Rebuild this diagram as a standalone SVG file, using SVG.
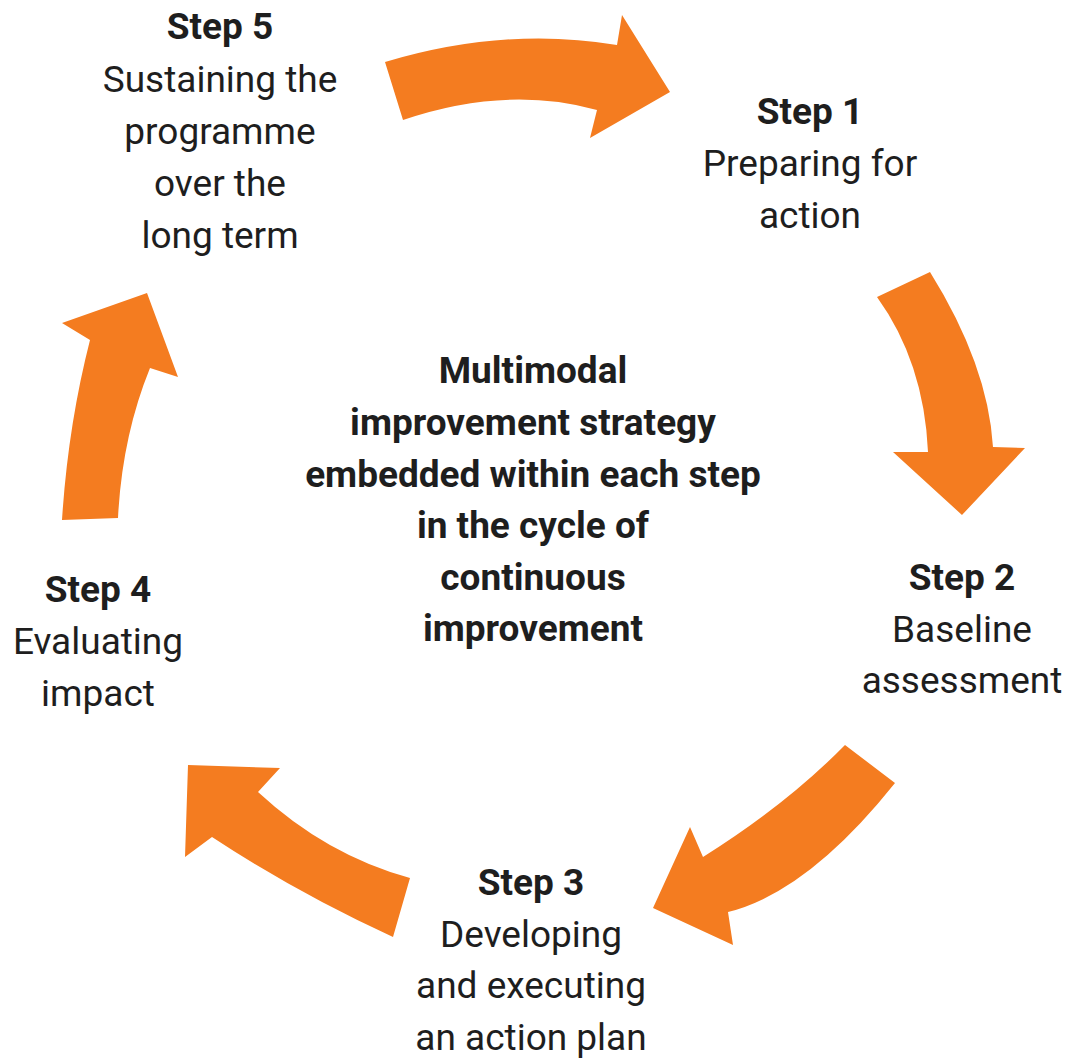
<svg xmlns="http://www.w3.org/2000/svg" width="1068" height="1058" viewBox="0 0 1068 1058">
<style>
.arrow{fill:#F47C20}
text{font-family:Roboto,"Liberation Sans",sans-serif;fill:#1e1e1e;text-anchor:middle}
.t{font-size:37px}
.b{font-size:37px;font-weight:bold}
</style>
<rect width="1068" height="1058" fill="#ffffff"/>
<g id="connectors">
<path class="arrow" d="M385,62 Q505,26 617,45 L622,15 L670,92 L590,138 L597,110 Q506,85 403,120 Z"/>
<path class="arrow" d="M877,297 Q924,362 928,452 L893,452 L962,515 L1025,448 L993,447 Q988,365 930,272 Z"/>
<path class="arrow" d="M845,745 L895,783 Q808,892 728,912 L733,945 L653,908 L690,827 L703,857 Q786,805 845,745 Z"/>
<path class="arrow" d="M410,878 L393,937 Q297,893 212,837 L185,857 L188,765 L280,768 L258,792 Q326,855 410,878 Z"/>
<path class="arrow" d="M62,520 Q68,426 90,340 L62,323 L147,293 L178,377 L150,368 Q122,437 118,518 Z"/>
</g>
<g id="step5">
<text class="b" x="220" y="39">Step 5</text>
<text class="t" x="220" y="92">Sustaining the</text>
<text class="t" x="220" y="144">programme</text>
<text class="t" x="220" y="196">over the</text>
<text class="t" x="220" y="248">long term</text>
</g>
<g id="step1">
<text class="b" x="810" y="124">Step 1</text>
<text class="t" x="810" y="176">Preparing for</text>
<text class="t" x="810" y="228">action</text>
</g>
<g id="center">
<text class="b" x="533" y="383">Multimodal</text>
<text class="b" x="533" y="435">improvement strategy</text>
<text class="b" x="533" y="487">embedded within each step</text>
<text class="b" x="533" y="538">in the cycle of</text>
<text class="b" x="533" y="590">continuous</text>
<text class="b" x="533" y="641">improvement</text>
</g>
<g id="step2">
<text class="b" x="962" y="590">Step 2</text>
<text class="t" x="962" y="642">Baseline</text>
<text class="t" x="962" y="693">assessment</text>
</g>
<g id="step4">
<text class="b" x="98" y="602">Step 4</text>
<text class="t" x="98" y="654">Evaluating</text>
<text class="t" x="98" y="706">impact</text>
</g>
<g id="step3">
<text class="b" x="531" y="895">Step 3</text>
<text class="t" x="531" y="947">Developing</text>
<text class="t" x="531" y="998">and executing</text>
<text class="t" x="531" y="1050">an action plan</text>
</g>
</svg>
